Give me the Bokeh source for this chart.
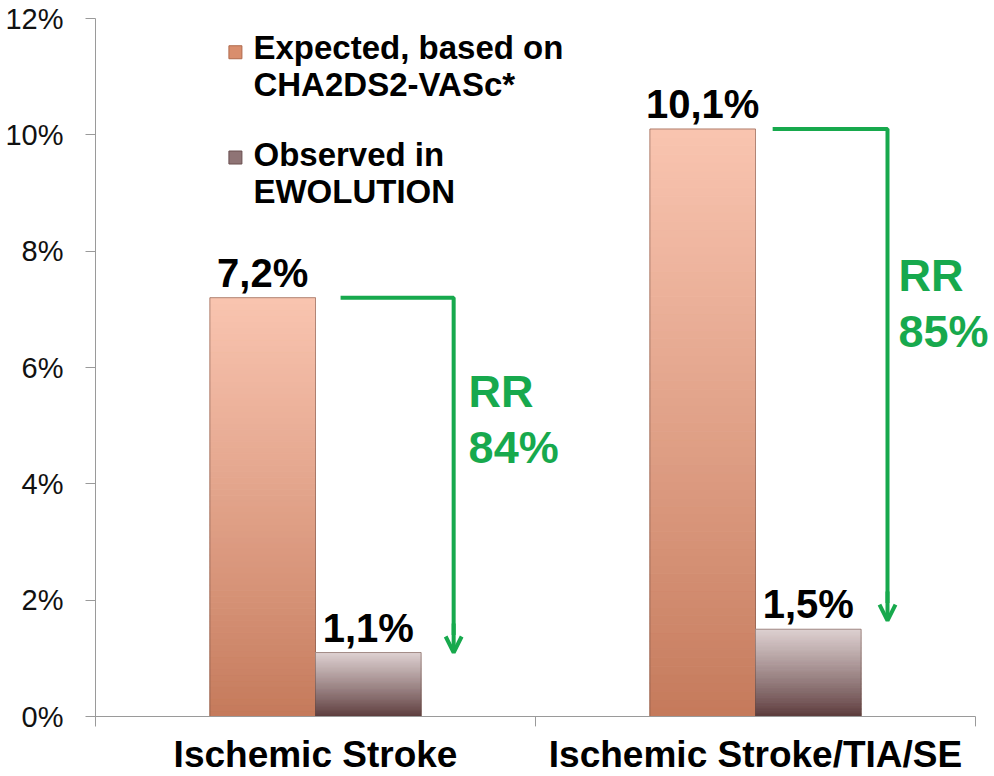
import numpy as np
from bokeh.plotting import figure
from bokeh.models import FixedTicker, PrintfTickFormatter, Arrow, OpenHead, Range1d, Label
from bokeh.embed import file_html
from bokeh.resources import INLINE
from bokeh.core.properties import value

# ---- data ----
categories = ["Ischemic Stroke", "Ischemic Stroke/TIA/SE"]
legend_expected = ["Expected, based on", "CHA2DS2-VASc*"]
legend_observed = ["Observed in", "EWOLUTION"]
expected = [7.2, 10.1]
observed = [1.1, 1.5]
expected_labels = ["7,2%", "10,1%"]
observed_labels = ["1,1%", "1,5%"]
rr_line1 = ["RR", "RR"]
rr_line2 = ["84%", "85%"]
y_ticks = [0, 2, 4, 6, 8, 10, 12]

# ---- annotation layout (data units) ----
arrow_tip = [1.10, 1.65]
arrow_start_off = [0.057, 0.039]
arrow_corner_off = [0.314, 0.300]
rr_x_off = [0.348, 0.325]
rr_y = [5.10, 7.10]

FONT = "Liberation Sans"
GREEN = "#17a94d"
AXIS_GRAY = "#9a9a9a"

n_cat = len(categories)
cx = [0.5 + i for i in range(n_cat)]
bw = 0.240
px_per_unit = 698 / 12

p = figure(width=994, height=776, x_range=Range1d(0, 899 / 440),
           y_range=Range1d(-60 / px_per_unit, 12),
           output_backend="svg", toolbar_location=None, x_axis_location=None,
           min_border_left=95, min_border_right=0, min_border_top=18, min_border_bottom=0)
p.outline_line_color = None
p.xgrid.visible = False
p.ygrid.visible = False
p.background_fill_color = "white"


def hex2rgb(h):
    h = h.lstrip("#")
    return np.array([int(h[i:i + 2], 16) for i in (0, 2, 4)], dtype=float)


def lerp(c1, c2, t):
    a, b = hex2rgb(c1), hex2rgb(c2)
    c = a + (b - a) * t
    return "#%02x%02x%02x" % tuple(int(round(v)) for v in c)


N = 70
specs = [(expected, -bw / 2, "#c4795a", "#f9c4b0"),
         (observed, bw / 2, "#5a393a", "#ddd0d0")]
for vals, off, bot_c, top_c in specs:
    for i, v in enumerate(vals):
        bottoms = [v * k / N for k in range(N)]
        tops = [v * (k + 1) / N for k in range(N)]
        cols = [lerp(bot_c, top_c, ((k + 0.5) / N) ** 0.9) for k in range(N)]
        p.vbar(x=cx[i] + off, width=bw, bottom=bottoms, top=tops,
               fill_color=cols, line_color=cols, line_width=1)
    p.vbar(x=[c + off for c in cx], width=bw, bottom=0, top=vals,
           fill_alpha=0, line_color="#6b4a40", line_alpha=0.5, line_width=1)

# x axis line with category-boundary ticks
p.line(x=[0, n_cat], y=[0, 0], line_color=AXIS_GRAY, line_width=1)
bounds_x = list(range(1, n_cat + 1))
p.segment(x0=bounds_x, y0=[0] * len(bounds_x), x1=bounds_x, y1=[-0.17] * len(bounds_x),
          line_color=AXIS_GRAY, line_width=1)

# value labels
p.text(x=[c - bw / 2 for c in cx], y=expected, text=expected_labels, text_align="center",
       text_baseline="middle", y_offset=-25, text_font=value(FONT), text_font_style="bold",
       text_font_size="40px", text_color="#000000")
p.text(x=[c + bw / 2 for c in cx], y=observed, text=observed_labels, text_align="center",
       text_baseline="middle", y_offset=-25, text_font=value(FONT), text_font_style="bold",
       text_font_size="40px", text_color="#000000")

# RR arrows
for i, c in enumerate(cx):
    xs = c + arrow_start_off[i]
    xc = c + arrow_corner_off[i]
    p.line(x=[xs, xc, xc], y=[expected[i], expected[i], arrow_tip[i] + 0.3],
           line_color=GREEN, line_width=4)
    p.add_layout(Arrow(x_start=xc, y_start=arrow_tip[i] + 0.5, x_end=xc, y_end=arrow_tip[i],
                       line_color=GREEN, line_width=4,
                       end=OpenHead(size=16, line_color=GREEN, line_width=4)))
    for txt, dy in ((rr_line1[i], 28), (rr_line2[i], -28)):
        p.add_layout(Label(x=c + rr_x_off[i], y=rr_y[i], y_offset=dy, text=txt,
                           text_align="left", text_baseline="middle", text_font=FONT,
                           text_font_style="bold", text_font_size="45px", text_color=GREEN))

# legend
p.scatter(x=[0.318, 0.318], y=[11.42, 9.61], marker="square", size=13,
          fill_color=["#d98e6d", "#8f7475"], line_color=["#b06a4c", "#6a4f50"])
p.text(x=[0.359, 0.359], y=[11.50, 10.86], text=legend_expected, text_align="left",
       text_baseline="middle", text_font=value(FONT), text_font_style="bold",
       text_font_size="33px", text_color="#000000")
p.text(x=[0.359, 0.359], y=[9.66, 9.02], text=legend_observed, text_align="left",
       text_baseline="middle", text_font=value(FONT), text_font_style="bold",
       text_font_size="33px", text_color="#000000")

# category labels below the axis line
p.text(x=cx, y=[0] * n_cat, text=categories, text_align="center", text_baseline="middle",
       y_offset=38, text_font=value(FONT), text_font_style="bold", text_font_size="37px",
       text_color="#000000")

# y axis
p.yaxis.ticker = FixedTicker(ticks=y_ticks)
p.yaxis.formatter = PrintfTickFormatter(format="%d%%")
p.yaxis.bounds = (-0.17, 12)
p.yaxis.major_label_text_font = FONT
p.yaxis.major_label_text_font_size = "29px"
p.yaxis.major_label_text_color = "#111111"
p.yaxis.major_label_standoff = 22
p.yaxis.major_tick_out = 10
p.yaxis.major_tick_in = 0
p.yaxis.minor_tick_line_color = None
p.yaxis.axis_line_color = AXIS_GRAY
p.yaxis.major_tick_line_color = AXIS_GRAY

open("out.html", "w").write(file_html(p, INLINE))
